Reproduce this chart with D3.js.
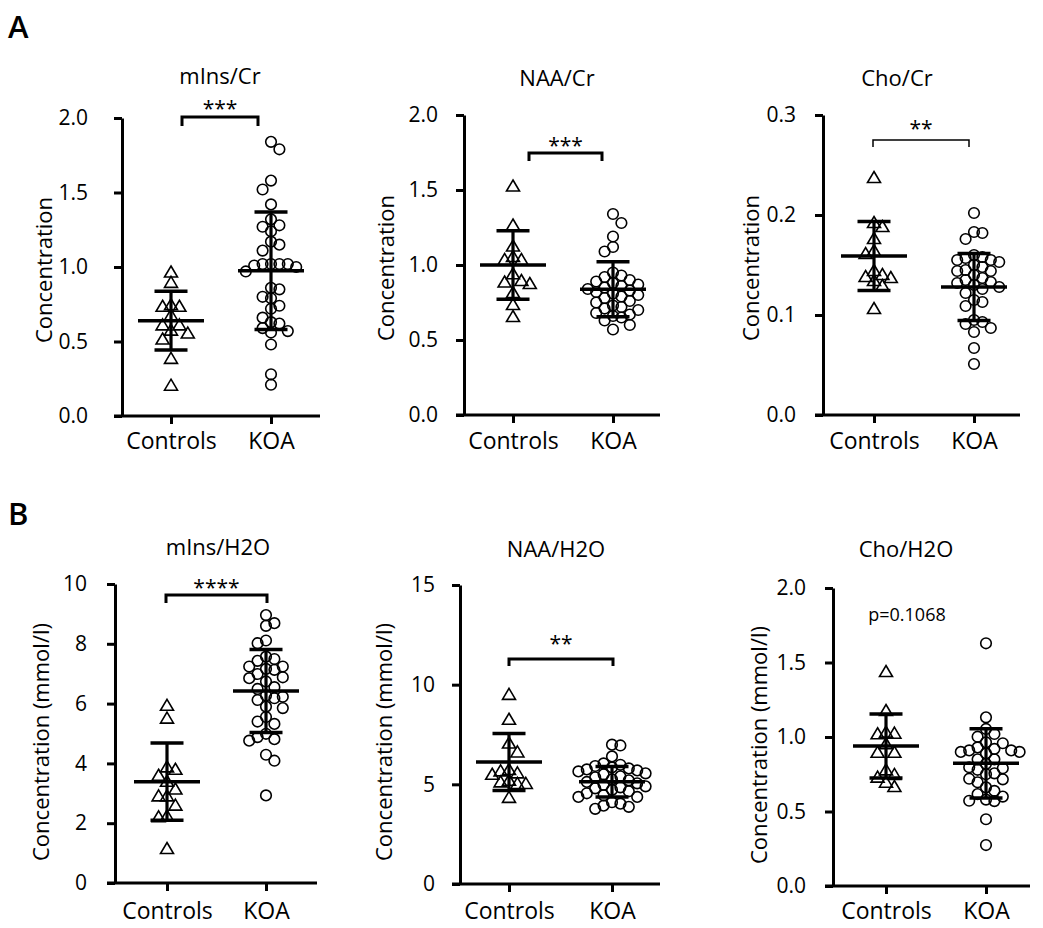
<!DOCTYPE html>
<html>
<head>
<meta charset="utf-8">
<script src="https://cdn.jsdelivr.net/npm/d3@7/dist/d3.min.js"></script>
<style>
  html, body { margin: 0; padding: 0; background: #fff; }
  svg text { font-family: "Open Sans", "Noto Sans", sans-serif; fill: #000; }
</style>
</head>
<body>
<svg id="chart" width="1043" height="928"></svg>
<script>
// ---------------- DATA ----------------
const categories = ["Controls", "KOA"];
const sectionLetters = ["A", "B"];
const panelTitles = ["mIns/Cr", "NAA/Cr", "Cho/Cr", "mIns/H2O", "NAA/H2O", "Cho/H2O"];
const yAxisTitles = ["Concentration", "Concentration", "Concentration",
  "Concentration (mmol/l)", "Concentration (mmol/l)", "Concentration (mmol/l)"];
const yMaxima = [2.0, 2.0, 0.3, 10, 15, 2.0];
const yTickValues = [
  [0, 0.5, 1.0, 1.5, 2.0],
  [0, 0.5, 1.0, 1.5, 2.0],
  [0, 0.1, 0.2, 0.3],
  [0, 2, 4, 6, 8, 10],
  [0, 5, 10, 15],
  [0, 0.5, 1.0, 1.5, 2.0]
];
const yTickFormats = [".1f", ".1f", ".1f", "d", "d", ".1f"];

const controlsValues = [
  [0.97, 0.90, 0.75, 0.74, 0.74, 0.68, 0.615, 0.615, 0.58, 0.56, 0.52, 0.39, 0.21],
  [1.53, 1.27, 1.13, 1.06, 1.04, 1.04, 0.945, 0.90, 0.88, 0.89, 0.82, 0.74, 0.66],
  [0.238, 0.193, 0.189, 0.177, 0.165, 0.162, 0.145, 0.139, 0.141, 0.138, 0.135, 0.130, 0.107],
  [5.96, 5.53, 3.82, 3.62, 3.90, 3.42, 3.16, 2.93, 2.93, 2.62, 2.26, 2.23, 1.17],
  [9.54, 8.29, 7.10, 6.65, 5.77, 5.60, 5.53, 5.70, 5.23, 5.07, 5.07, 5.15, 4.37],
  [1.443, 1.181, 1.025, 1.036, 1.029, 0.958, 0.901, 0.901, 0.783, 0.734, 0.752, 0.70, 0.671]
];
const koaValues = [
  [1.84, 1.79, 1.58, 1.52, 1.42, 1.32, 1.27, 1.28, 1.24, 1.15, 1.17, 1.11, 1.02, 1.02, 1.01, 0.97, 1.00,
   1.02, 1.02, 0.85, 0.79, 0.80, 0.86, 0.74, 0.72, 0.66, 0.59, 0.62, 0.56, 0.63, 0.57, 0.48, 0.28, 0.21],
  [1.34, 1.28, 1.19, 1.12, 1.09, 0.95, 0.93, 0.92, 0.90, 0.89, 0.88, 0.87, 0.86, 0.85, 0.84, 0.83, 0.82,
   0.81, 0.80, 0.79, 0.78, 0.76, 0.75, 0.73, 0.72, 0.71, 0.70, 0.68, 0.67, 0.66, 0.65, 0.63, 0.60, 0.57],
  [0.202, 0.182, 0.183, 0.176, 0.160, 0.158, 0.155, 0.153, 0.155, 0.157, 0.150, 0.148, 0.145, 0.144,
   0.144, 0.140, 0.137, 0.135, 0.133, 0.132, 0.130, 0.128, 0.126, 0.122, 0.115, 0.113, 0.109, 0.095,
   0.093, 0.091, 0.087, 0.083, 0.067, 0.051],
  [8.96, 8.69, 8.60, 8.11, 8.02, 7.57, 7.43, 7.49, 7.16, 7.24, 7.24, 7.13, 6.99, 6.85, 6.88, 6.74, 6.49,
   6.55, 6.23, 6.12, 6.18, 6.27, 5.90, 5.85, 5.55, 5.40, 5.32, 4.88, 4.76, 4.81, 4.99, 4.29, 4.09, 2.93],
  [6.99, 6.95, 6.40, 6.05, 5.98, 5.92, 5.85, 5.80, 5.75, 5.70, 5.65, 5.55, 5.50, 5.40, 5.35, 5.25, 5.20,
   5.12, 5.05, 4.98, 4.90, 4.85, 4.80, 4.72, 4.65, 4.55, 4.45, 4.37, 4.37, 4.10, 4.03, 3.93, 3.87, 3.77],
  [1.629, 1.132, 1.054, 1.020, 1.002, 0.958, 0.964, 0.93, 0.91, 0.90, 0.89, 0.90, 0.91, 0.92, 0.85, 0.82,
   0.797, 0.79, 0.756, 0.75, 0.716, 0.72, 0.696, 0.662, 0.638, 0.60, 0.617, 0.57, 0.572, 0.58, 0.78,
   0.448, 0.275, 0.85]
];
// mean and SD: [Controls, KOA]
const meanValues = [[0.64, 0.975], [1.00, 0.838], [0.159, 0.128], [3.39, 6.42], [6.12, 5.13], [0.94, 0.823]];
const sdValues = [[0.197, 0.394], [0.229, 0.183], [0.0345, 0.0335], [1.295, 1.39], [1.435, 0.77], [0.215, 0.232]];
const significanceLabels = ["***", "***", "**", "****", "**", "p=0.1068"];

// ---------------- LAYOUT (positions only) ----------------
const layout = [
  { ax: 122, top: 118, bottom: 416, right: 320, c0: 171, c1: 271, tickLabelRight: 88, titleX: 220, titleY: 84, ylabX: 43, ylabY: 270, catY: 449,
    br: { x1: 182, x2: 258, top: 117, end: 126, w: 3, textY: 116 } },
  { ax: 464, top: 115, bottom: 415, right: 660, c0: 513, c1: 613, tickLabelRight: 438, titleX: 557, titleY: 86, ylabX: 385, ylabY: 268, catY: 449,
    br: { x1: 529, x2: 602, top: 153, end: 161, w: 3, textY: 153 } },
  { ax: 823, top: 115, bottom: 415, right: 1020, c0: 874, c1: 974, tickLabelRight: 796, titleX: 897, titleY: 86, ylabX: 750, ylabY: 268, catY: 449,
    br: { x1: 873, x2: 969, top: 140, end: 147, w: 1.5, textY: 136 } },
  { ax: 115, top: 584, bottom: 883, right: 317, c0: 167, c1: 266, tickLabelRight: 87, titleX: 218, titleY: 555, ylabX: 40, ylabY: 742, catY: 919,
    br: { x1: 166, x2: 267, top: 595, end: 603, w: 3, textY: 595 } },
  { ax: 460, top: 585, bottom: 884, right: 660, c0: 509, c1: 612, tickLabelRight: 435, titleX: 556, titleY: 557, ylabX: 383, ylabY: 742, catY: 919,
    br: { x1: 509, x2: 613, top: 659, end: 666, w: 3, textY: 651 } },
  { ax: 833, top: 588, bottom: 886, right: 1030, c0: 886, c1: 986, tickLabelRight: 806, titleX: 906, titleY: 557, ylabX: 758, ylabY: 745, catY: 919,
    br: null, pX: 907, pY: 621 }
];
const letterPos = [{ x: 8, y: 38 }, { x: 8, y: 525 }];

// ---------------- DRAW ----------------
const svg = d3.select("#chart");

sectionLetters.forEach((L, i) => {
  svg.append("text").attr("x", letterPos[i].x).attr("y", letterPos[i].y)
    .attr("font-size", 31).attr("font-weight", 600).text(L);
});

// simple beeswarm: horizontal offsets in multiples of `step`; elliptical exclusion (ax, by)
function swarm(values, yScale, step, ax, by) {
  const idx = values.map((v, i) => i).sort((a, b) => values[b] - values[a]);
  const placed = [];
  const offsets = new Array(values.length).fill(0);
  let toggle = 1;
  idx.forEach(i => {
    const py = yScale(values[i]);
    const free = dx => placed.every(p => {
      const u = (p.x - dx) / ax, v = (p.y - py) / by;
      return u * u + v * v >= 0.999;
    });
    for (let k = 0; k < 20; k++) {
      if (k === 0) { if (free(0)) { offsets[i] = 0; break; } continue; }
      const a = toggle * k * step, b = -toggle * k * step;
      if (free(a)) { offsets[i] = a; toggle = -toggle; break; }
      if (free(b)) { offsets[i] = b; break; }
    }
    placed.push({ x: offsets[i], y: py });
  });
  return offsets;
}

const triPath = "M0,-5.5L6.5,5.5L-6.5,5.5Z";

layout.forEach((p, i) => {
  const g = svg.append("g");
  const y = d3.scaleLinear().domain([0, yMaxima[i]]).range([p.bottom, p.top]);
  const x = d3.scalePoint().domain(categories).range([p.c0, p.c1]);
  const fmt = d3.format(yTickFormats[i]);

  // y axis
  const yAxis = d3.axisLeft(y).tickValues(yTickValues[i]).tickFormat(fmt).tickSize(8).tickSizeOuter(0);
  const ya = g.append("g").attr("transform", `translate(${p.ax},0)`).call(yAxis);
  ya.select(".domain").attr("stroke", "#000").attr("stroke-width", 3);
  ya.selectAll(".tick line").attr("stroke", "#000").attr("stroke-width", 3);
  ya.selectAll(".tick text").attr("x", p.tickLabelRight - p.ax).attr("font-size", 21)
    .attr("font-family", "'Open Sans', sans-serif").attr("fill", "#000");

  // x axis
  const xAxis = d3.axisBottom(x).tickSize(8).tickSizeOuter(0);
  const xa = g.append("g").attr("transform", `translate(0,${p.bottom})`).call(xAxis);
  xa.select(".domain").remove();
  xa.selectAll(".tick line").attr("stroke", "#000").attr("stroke-width", 3);
  xa.selectAll(".tick text").attr("y", p.catY - p.bottom).attr("dy", 0).attr("font-size", 23)
    .attr("font-family", "'Open Sans', sans-serif").attr("fill", "#000");
  g.append("line").attr("x1", p.ax - 8).attr("x2", p.right).attr("y1", p.bottom).attr("y2", p.bottom)
    .attr("stroke", "#000").attr("stroke-width", 3);

  // title
  g.append("text").attr("x", p.titleX).attr("y", p.titleY).attr("text-anchor", "middle")
    .attr("font-size", 22).text(panelTitles[i]);
  // y axis title
  g.append("text").attr("transform", `translate(${p.ylabX},${p.ylabY}) rotate(-90)`)
    .attr("text-anchor", "middle").attr("dominant-baseline", "central")
    .attr("font-size", 22).text(yAxisTitles[i]);

  // points
  const groups = [controlsValues[i], koaValues[i]];
  groups.forEach((vals, gi) => {
    const offs = swarm(vals, y, 8.4, 8.4, 10);
    const cx = x(categories[gi]);
    if (gi === 0) {
      g.selectAll(null).data(vals).enter().append("path")
        .attr("d", triPath)
        .attr("transform", (d, k) => `translate(${cx + offs[k]},${y(d)})`)
        .attr("fill", "none").attr("stroke", "#000").attr("stroke-width", 1.6);
    } else {
      g.selectAll(null).data(vals).enter().append("circle")
        .attr("cx", (d, k) => cx + offs[k]).attr("cy", d => y(d)).attr("r", 5.3)
        .attr("fill", "none").attr("stroke", "#000").attr("stroke-width", 1.6);
    }
  });

  // mean ± SD
  categories.forEach((c, gi) => {
    const cx = x(c), m = meanValues[i][gi], s = sdValues[i][gi];
    g.append("line").attr("x1", cx).attr("x2", cx).attr("y1", y(m - s)).attr("y2", y(m + s))
      .attr("stroke", "#000").attr("stroke-width", 3.2);
    g.append("line").attr("x1", cx - 33).attr("x2", cx + 33).attr("y1", y(m)).attr("y2", y(m))
      .attr("stroke", "#000").attr("stroke-width", 3.5);
    [m - s, m + s].forEach(v => {
      g.append("line").attr("x1", cx - 16.5).attr("x2", cx + 16.5).attr("y1", y(v)).attr("y2", y(v))
        .attr("stroke", "#000").attr("stroke-width", 3.5);
    });
  });

  // significance
  if (p.br) {
    const b = p.br;
    g.append("path").attr("d", `M${b.x1},${b.end}V${b.top}H${b.x2}V${b.end}`)
      .attr("fill", "none").attr("stroke", "#000").attr("stroke-width", b.w);
    g.append("text").attr("x", (b.x1 + b.x2) / 2).attr("y", b.textY).attr("text-anchor", "middle")
      .attr("font-size", 21).text(significanceLabels[i]);
  } else {
    g.append("text").attr("x", p.pX).attr("y", p.pY).attr("text-anchor", "middle")
      .attr("font-size", 18).text(significanceLabels[i]);
  }
});
</script>
</body>
</html>
